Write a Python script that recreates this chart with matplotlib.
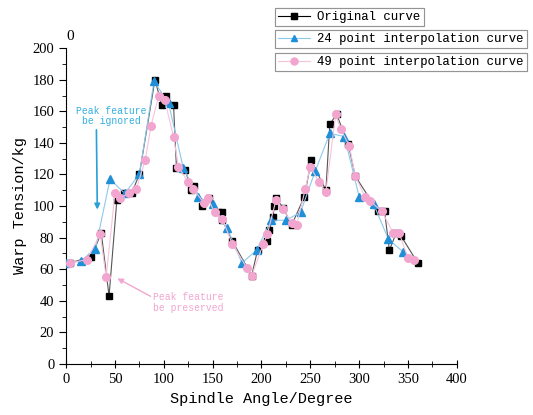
import numpy as np
import matplotlib
matplotlib.use("Agg")
from matplotlib import pyplot as plt
from matplotlib.lines import Line2D

# data
orig_x = [4, 26, 36, 44, 52, 59, 67, 75, 91, 98, 102, 110, 113, 122, 128, 131,
          139, 146, 156, 160, 160, 170, 190, 196, 206, 208, 212, 213, 215, 222,
          231, 244, 251, 266, 270, 277, 289, 296, 319, 326, 331, 338, 343, 360]
orig_y = [64, 68, 83, 43, 104, 108, 108, 120, 180, 164, 170, 164, 124, 123, 110, 113,
          100, 105, 96, 96, 91, 78, 56, 72, 78, 85, 93, 100, 105, 99,
          88, 106, 129, 110, 152, 158, 139, 119, 97, 97, 72, 83, 81, 64]

p24_x = [0, 15, 30, 45, 60, 75, 90, 105, 120, 135, 150, 165,
         180, 195, 210, 225, 240, 255, 270, 285, 300, 315, 330, 345]
p24_y = [64, 65, 73, 117, 108, 120, 179, 165, 124, 106, 101, 86,
         64, 72, 91, 91, 96, 122, 146, 144, 106, 101, 79, 71]

p49_x = [4, 21, 35, 41, 50, 55, 64, 72, 81, 87, 95, 101, 110, 115, 125, 130,
         141, 145, 152, 160, 170, 185, 190, 202, 206, 215, 222, 231, 236,
         245, 250, 259, 266, 276, 281, 290, 296, 306, 311, 323, 335, 341, 350, 356]
p49_y = [64, 66, 82, 55, 108, 105, 108, 111, 129, 151, 170, 167, 144, 125, 115, 111,
         102, 105, 96, 92, 76, 61, 56, 76, 82, 104, 98, 89, 88,
         111, 125, 115, 109, 158, 149, 138, 119, 106, 103, 97, 83, 83, 67, 66]

blue = "#1f8fd8"
pink = "#f2a6cf"

plt.rcParams['font.family'] = ['Liberation Mono', 'DejaVu Sans']

fig = plt.figure(figsize=(5.33, 4.15), dpi=100)
ax = fig.add_axes([0.124, 0.123, 0.733, 0.761])

ax.plot(orig_x, orig_y, color="#555555", lw=0.8, marker="s", ms=5,
        mfc="black", mec="black", zorder=3)
ax.plot(p24_x, p24_y, color="#8cc8ec", lw=0.8, marker="^", ms=6,
        mfc=blue, mec=blue, zorder=4)
ax.plot(p49_x, p49_y, color="#f6c3dd", lw=0.8, marker="o", ms=5.5,
        mfc=pink, mec=pink, zorder=5)

ax.set_xlim(0, 400)
ax.set_ylim(0, 200)
ax.set_xticks(np.arange(0, 401, 50))
ax.set_xticks(np.arange(0, 401, 25), minor=True)
ax.set_yticks(np.arange(0, 201, 20))
ax.set_yticks(np.arange(0, 201, 10), minor=True)
ax.spines['top'].set_visible(False)
ax.spines['right'].set_visible(False)
ax.tick_params(axis='x', which='major', direction='inout', length=6, labelsize=10.5)
ax.tick_params(axis='x', which='minor', direction='inout', length=4)
ax.tick_params(axis='y', which='major', direction='out', length=5, labelsize=10.5)
ax.tick_params(axis='y', which='minor', direction='out', length=3)
for lab in ax.get_xticklabels() + ax.get_yticklabels():
    lab.set_family('Liberation Serif')

ax.set_xlabel("Spindle Angle/Degree", fontsize=11, labelpad=4)
ax.set_ylabel("Warp Tension/kg", fontsize=11, labelpad=4)
ax.text(0.5, 203, "0", fontsize=11, family='Liberation Serif', ha='left', va='bottom')

# annotations
ax.text(46, 157, "Peak feature\nbe ignored", color="#35aee0", fontsize=7,
        ha='center', va='center', linespacing=1.1)
ax.annotate("", xy=(32, 96), xytext=(31, 150),
            arrowprops=dict(arrowstyle="-|>", color="#2a9fd8", lw=1.2, mutation_scale=8))
ax.text(125, 39, "Peak feature\nbe preserved", color=pink, fontsize=7,
        ha='center', va='center', linespacing=1.1)
ax.annotate("", xy=(50, 55), xytext=(89, 42),
            arrowprops=dict(arrowstyle="-|>", color=pink, lw=1.0, mutation_scale=8))

# three separate legend boxes
h1 = Line2D([], [], color="black", lw=0.8, marker="s", ms=4, mfc="black", mec="black")
h2 = Line2D([], [], color="#8cc8ec", lw=0.8, marker="^", ms=5, mfc=blue, mec=blue)
h3 = Line2D([], [], color="#f6c3dd", lw=0.8, marker="o", ms=5, mfc=pink, mec=pink)
ypos = [0.981, 0.927, 0.872]
for h, lab, y in zip([h1, h2, h3],
                     ["Original curve", "24 point interpolation curve",
                      "49 point interpolation curve"], ypos):
    lg = fig.legend([h], [lab], loc='upper left', bbox_to_anchor=(0.516, y),
                    fontsize=8.8, frameon=True, fancybox=False, edgecolor="#888888",
                    borderpad=0.25, handlelength=2.6, handletextpad=0.6,
                    borderaxespad=0)
    lg.get_frame().set_linewidth(0.8)
    fig.add_artist(lg)

fig.savefig("out.png", dpi=100)
